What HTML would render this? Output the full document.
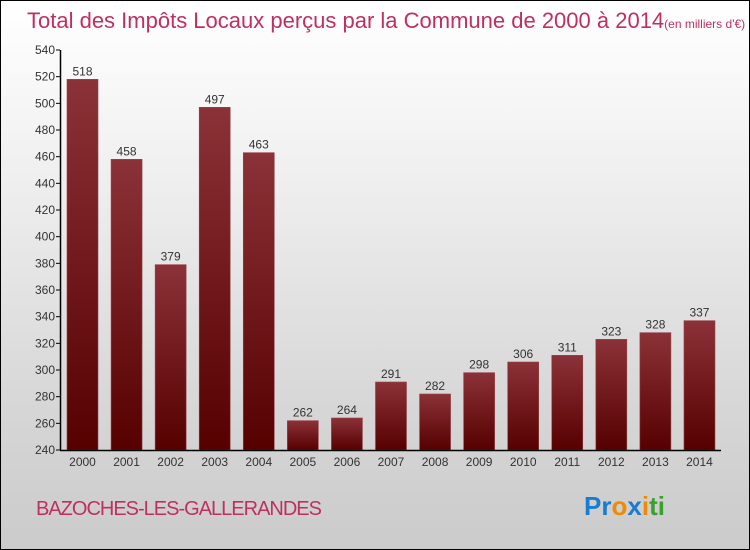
<!DOCTYPE html>
<html><head><meta charset="utf-8"><style>
body{margin:0;}
#c{position:relative;width:748px;height:548px;border:1px solid #000;background:linear-gradient(#fff,#f3f3f3 25%,#d6d6d6 75%,#cbcbcb);font-family:"Liberation Sans",sans-serif;overflow:hidden}
svg text{font-family:"Liberation Sans",sans-serif}
</style></head><body>
<div id="c">
<svg width="748" height="548">
<defs><linearGradient id="g" x1="0" y1="0" x2="0" y2="1"><stop offset="0" stop-color="#8b3238"/><stop offset="1" stop-color="#560000"/></linearGradient></defs>
<text x="26" y="27" font-size="22" fill="#c0305f">Total des Impôts Locaux perçus par la Commune de 2000 à 2014<tspan font-size="12">(en milliers d'€)</tspan></text>
<g id="plot"></g>
<text x="35" y="514" font-size="20" fill="#c0305f" letter-spacing="-1">BAZOCHES-LES-GALLERANDES</text>
<text x="583" y="514" font-size="26" font-weight="bold"><tspan fill="#1a7cd0">Pr</tspan><tspan fill="#f08a00">o</tspan><tspan fill="#1a7cd0">x</tspan><tspan fill="#f08a00">i</tspan><tspan fill="#3aa030">ti</tspan></text>
</svg>
</div>
<script>
const years=["2000","2001","2002","2003","2004","2005","2006","2007","2008","2009","2010","2011","2012","2013","2014"];
const values=[518,458,379,497,463,262,264,291,282,298,306,311,323,328,337];
const yTicks=[240,260,280,300,320,340,360,380,400,420,440,460,480,500,520,540];
const NS="http://www.w3.org/2000/svg";
const g=document.getElementById('plot');
const y=v=>449-(v-240)*400/300;
const x=i=>81.5+i*44.07;
function mk(t,a){const e=document.createElementNS(NS,t);for(const k in a)e.setAttribute(k,a[k]);g.appendChild(e);return e;}
yTicks.forEach(v=>{
 const l=mk('line',{x1:55,x2:59,y1:y(v),y2:y(v),stroke:'#000'});
 
 
 const t=mk('text',{x:54,y:y(v)+4,'font-size':12,'text-anchor':'end',fill:'#333'});
 t.textContent=v;
 
 
});
values.forEach((v,i)=>{
 const r=mk('rect',{x:x(i)-15.5,y:y(v),width:31,height:449-y(v),fill:'url(#g)',stroke:'#9a4048','stroke-width':0.6});
 
 
 const t=mk('text',{x:x(i),y:y(v)-4,'font-size':12,'text-anchor':'middle',fill:'#333'});
 t.textContent=v;
 
 
 const xl=mk('text',{x:x(i),y:465,'font-size':12,'text-anchor':'middle',fill:'#333'});
 xl.textContent=years[i];
 
 
});
const ya=mk('line',{x1:59.5,x2:59.5,y1:y(540),y2:449.5,stroke:'#000','stroke-width':1.5});


const xa=mk('line',{x1:59,x2:720,y1:449.5,y2:449.5,stroke:'#000','stroke-width':1.5});


</script>
</body></html>
